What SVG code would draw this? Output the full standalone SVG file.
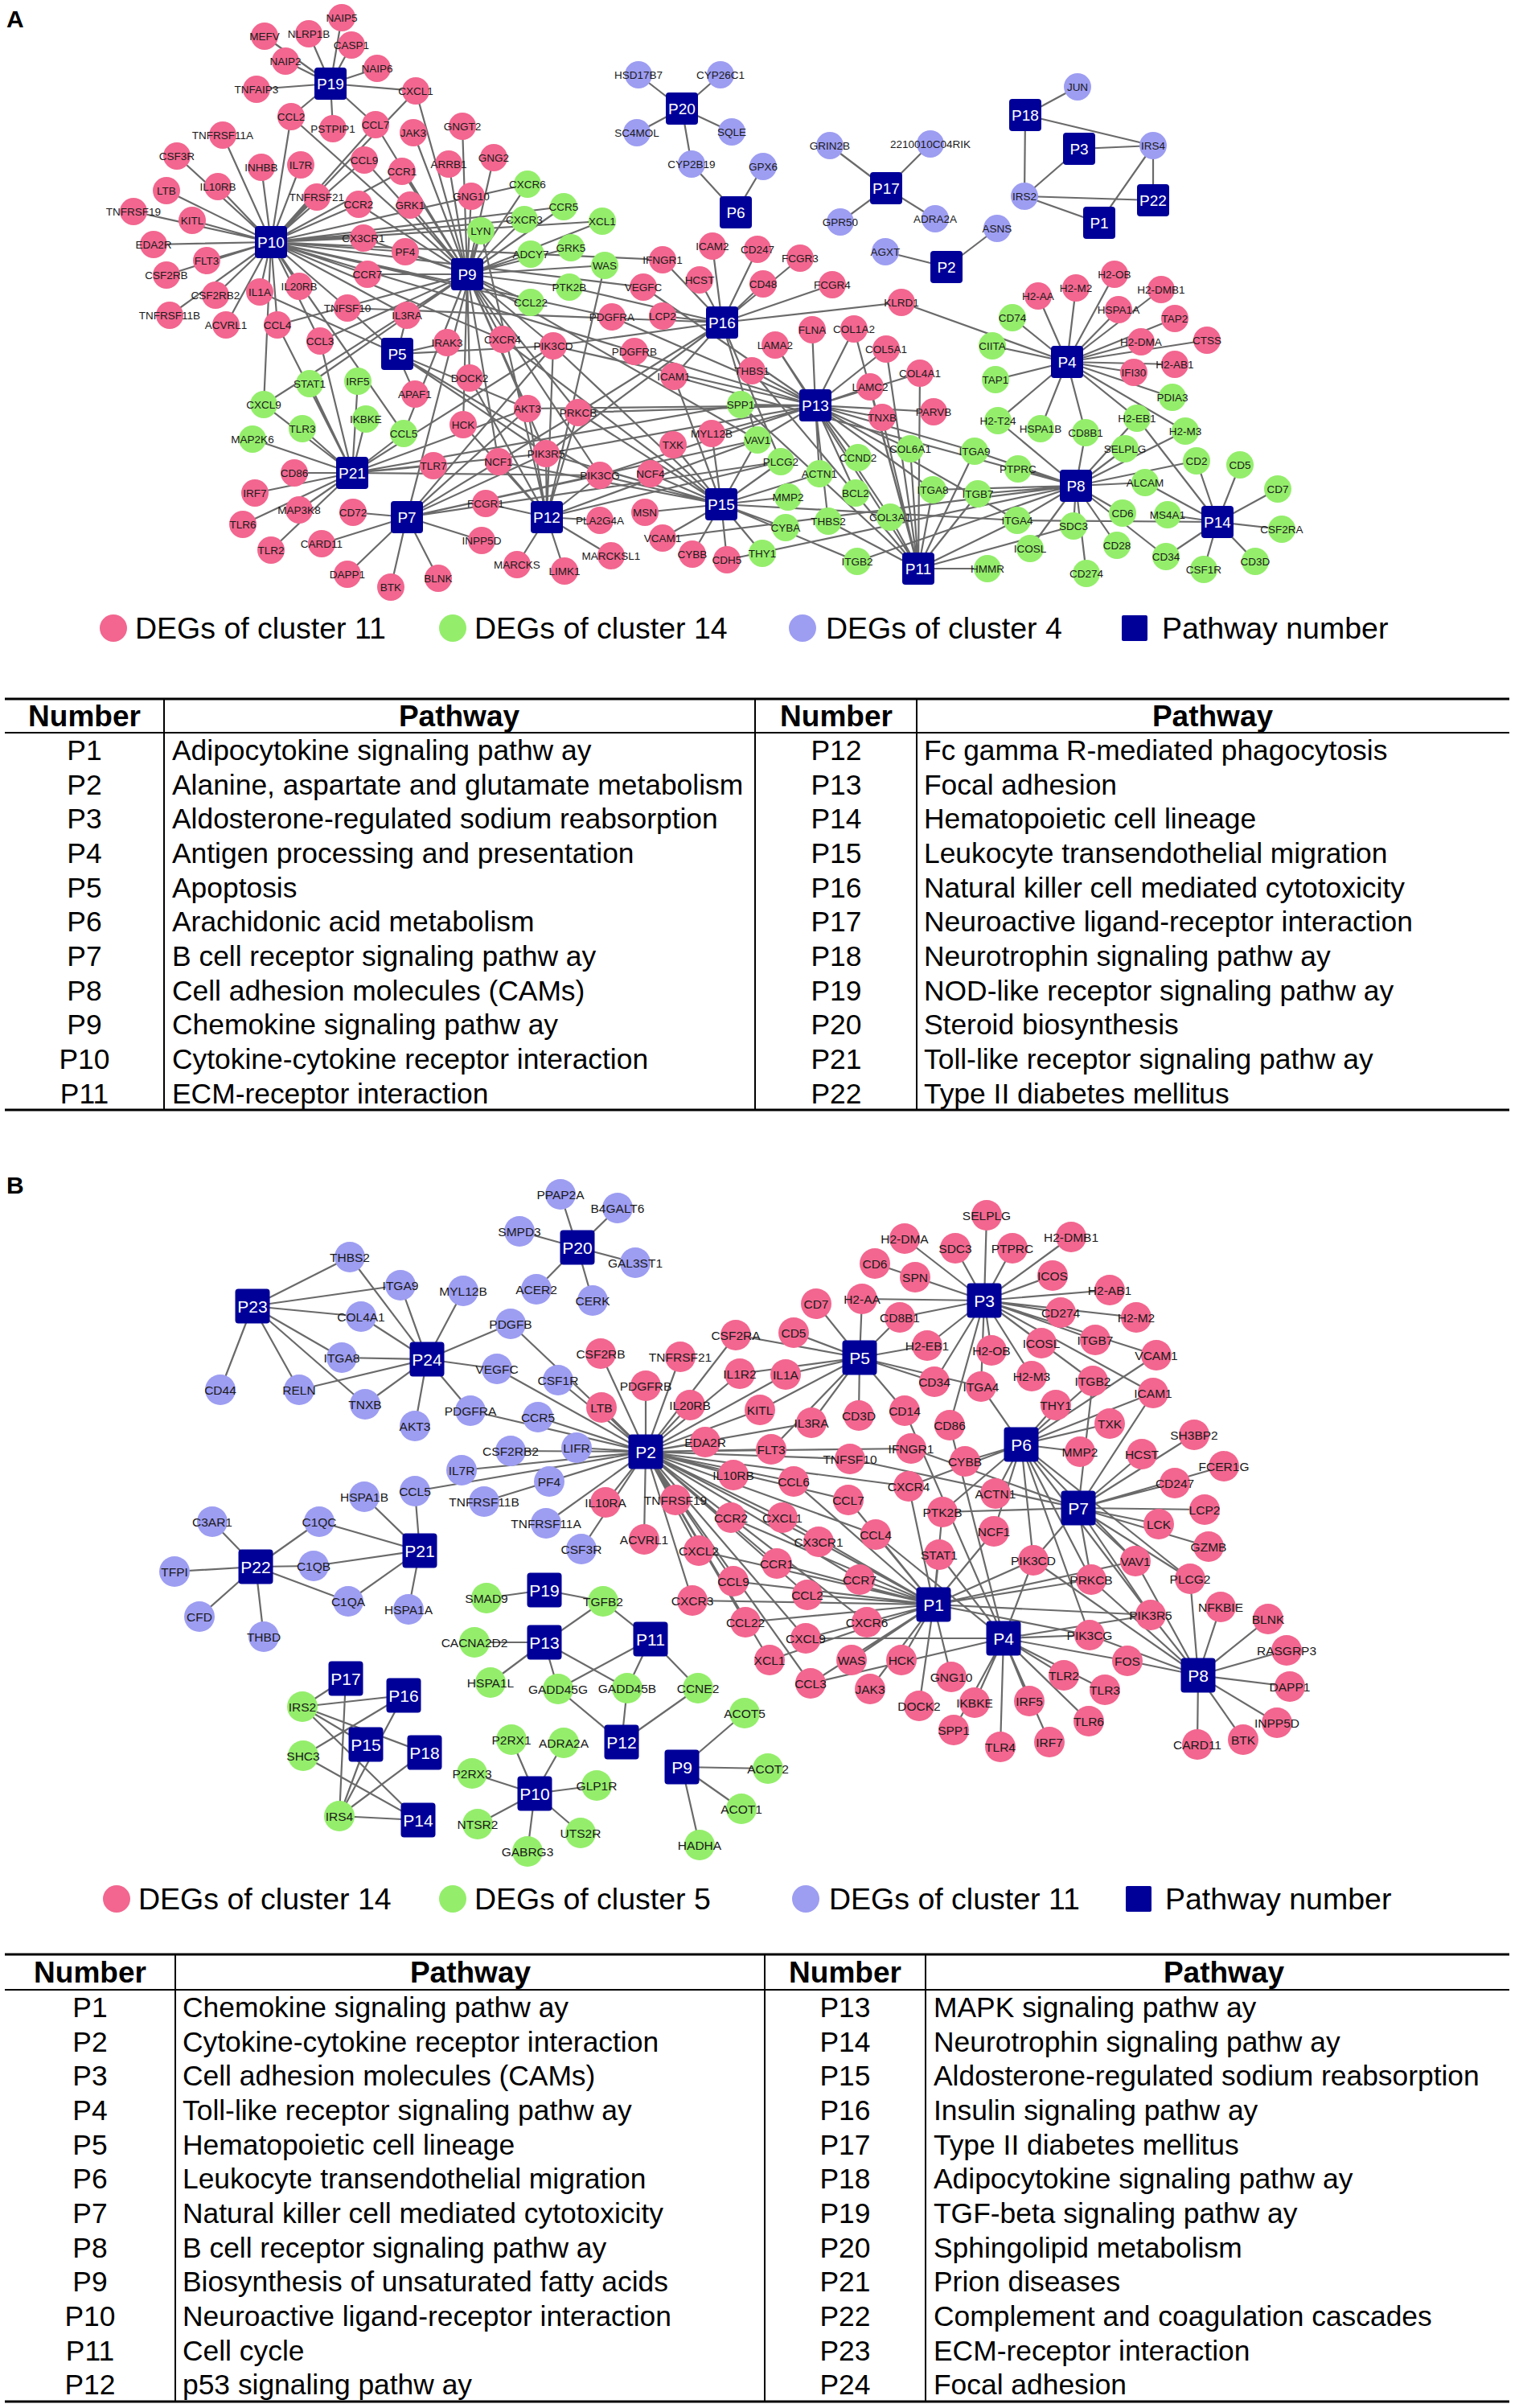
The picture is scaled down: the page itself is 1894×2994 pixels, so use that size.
<svg xmlns="http://www.w3.org/2000/svg" width="1894" height="2994" viewBox="0 0 1894 2994">
<style>
text{font-family:'Liberation Sans',Arial,Helvetica,sans-serif}
.e{stroke:#6a6a6a;stroke-width:2.2;fill:none}
.pk{fill:#F2668F}
.gr{fill:#94EE6B}
.lv{fill:#9D9DF2}
.hb{fill:#000099}
.n{font-size:13.5px;fill:#1a1a1a;text-anchor:middle;dominant-baseline:central}
.m{font-size:15.5px;fill:#1a1a1a;text-anchor:middle;dominant-baseline:central}
.ht{font-size:19px;fill:#fff;text-anchor:middle;dominant-baseline:central}
.hu{font-size:21px;fill:#fff;text-anchor:middle;dominant-baseline:central}
.lg{font-size:37.5px;fill:#000}
.tb{font-size:35.4px;fill:#000}
.tc{font-size:35.4px;fill:#000;text-anchor:middle}
.th{font-size:37px;font-weight:bold;fill:#000;text-anchor:middle}
.pl{font-size:30px;font-weight:bold;fill:#000}
.tl{stroke:#000;stroke-width:2}
.tk{stroke:#000;stroke-width:3}
</style>
<rect width="1894" height="2994" fill="#fff"/>
<text class="pl" x="8" y="34">A</text>
<text class="pl" x="8" y="1484">B</text>

<g id="connectors-a">
<path class="e" d="M411 104L425 22M411 104L329 45M411 104L384 42M411 104L437 56M411 104L355 76M411 104L469 85M411 104L319 111M411 104L517 113M411 104L362 145M411 104L414 160M411 104L467 155"/>
<path class="e" d="M337 301L277 168M337 301L220 194M337 301L325 208M337 301L374 205M337 301L207 237M337 301L271 232M337 301L166 263M337 301L239 274M337 301L191 304M337 301L257 324M337 301L207 342M337 301L268 367M337 301L323 363M337 301L372 356M337 301L211 392M337 301L281 404M337 301L345 404M337 301L398 424M337 301L432 383M337 301L506 392M337 301L362 145M337 301L467 155M337 301L453 199M337 301L500 213M337 301L394 245M337 301L446 254M337 301L452 296M337 301L504 313M337 301L457 341M337 301L517 113M337 301L656 229M337 301L652 273M337 301L701 257M337 301L749 275M337 301L328 503M337 301L502 539M337 301L625 422M337 301L660 376M337 301L800 357M337 301L761 394M337 301L789 437M337 301L824 323"/>
<path class="e" d="M581 341L575 157M581 341L558 204M581 341L614 196M581 341L586 244M581 341L598 287M581 341L656 229M581 341L652 273M581 341L701 257M581 341L749 275M581 341L660 316M581 341L710 308M581 341L752 330M581 341L708 357M581 341L660 376M581 341L514 165M581 341L510 255M581 341L500 213M581 341L453 199M581 341L467 155M581 341L362 145M581 341L517 113M581 341L446 254M581 341L452 296M581 341L504 313M581 341L457 341M581 341L345 404M581 341L398 424M581 341L625 422M581 341L584 470M581 341L576 528M581 341L385 477M581 341L502 539M581 341L328 503M581 341L656 508M581 341L688 430M581 341L679 564M581 341L746 591M581 341L719 513M581 341L620 574M581 341L942 547"/>
<path class="e" d="M848 135L794 93M848 135L896 93M848 135L792 165M848 135L910 164M848 135L860 204M915 264L860 204M915 264L949 207M1102 234L1032 181M1102 234L1157 179M1102 234L1045 276M1102 234L1163 272M1177 332L1101 313M1177 332L1240 284M1275 143L1340 108M1275 143L1434 181M1275 143L1274 244M1342 185L1434 181M1342 185L1274 244M1434 249L1434 181M1434 249L1274 244M1367 277L1434 181M1367 277L1274 244"/>
<path class="e" d="M494 440L506 392M494 440L556 426M494 440L516 490M494 440L432 383M494 440L323 363M494 440L688 430M494 440L679 564M494 440L746 591M494 440L656 508"/>
<path class="e" d="M438 588L385 477M438 588L445 474M438 588L455 521M438 588L502 539M438 588L328 503M438 588L376 533M438 588L314 546M438 588L366 588M438 588L317 613M438 588L372 634M438 588L302 652M438 588L337 684M438 588L539 579M438 588L398 424M438 588L345 404M438 588L656 508M438 588L688 430M438 588L679 564M438 588L746 591M438 588L921 503"/>
<path class="e" d="M506 643L439 637M506 643L400 676M506 643L432 714M506 643L486 730M506 643L545 719M506 643L599 672M506 643L656 508M506 643L688 430M506 643L679 564M506 643L746 591M506 643L719 513M506 643L942 547M506 643L971 574M506 643L598 287"/>
<path class="e" d="M680 643L604 626M680 643L620 574M680 643L576 528M680 643L584 470M680 643L746 647M680 643L643 702M680 643L760 691M680 643L702 710M680 643L688 430M680 643L679 564M680 643L746 591M680 643L656 508M680 643L719 513M680 643L942 547M680 643L971 574M680 643L598 287M680 643L752 330"/>
<path class="e" d="M897 627L802 637M897 627L824 669M897 627L861 689M897 627L904 696M897 627L948 688M897 627L977 656M897 627L980 618M897 627L1019 589M897 627L1066 698M897 627L1265 647M897 627L838 468M897 627L837 553M897 627L885 539M897 627L809 589M897 627L620 574M897 627L688 430M897 627L679 564M897 627L746 591M897 627L719 513M897 627L942 547M897 627L971 574M897 627L625 422"/>
<path class="e" d="M898 401L824 393M898 401L824 323M898 401L870 348M898 401L886 306M898 401L942 310M898 401L949 353M898 401L995 321M898 401L1035 354M898 401L1121 376M898 401L942 547M898 401L971 574M898 401L688 430M898 401L679 564M898 401L719 513M898 401L838 468M898 401L432 383M898 401L708 357"/>
<path class="e" d="M1014 504L1010 410M1014 504L1062 409M1014 504L964 429M1014 504L1102 434M1014 504L935 461M1014 504L1144 464M1014 504L1082 481M1014 504L1097 519M1014 504L1161 512M1014 504L921 503M1014 504L1132 558M1014 504L1067 569M1014 504L1019 589M1014 504L1064 613M1014 504L1030 648M1014 504L1107 643M1014 504L1160 609M1014 504L1212 561M1014 504L1265 647M1014 504L885 539M1014 504L942 547M1014 504L688 430M1014 504L679 564M1014 504L746 591M1014 504L656 508M1014 504L719 513M1014 504L761 394M1014 504L789 437M1014 504L800 357"/>
<path class="e" d="M1142 707L1132 558M1142 707L1160 609M1142 707L1212 561M1142 707L1216 614M1142 707L1265 647M1142 707L1107 643M1142 707L1030 648M1142 707L1228 707M1142 707L921 503M1142 707L935 461M1142 707L1062 409M1142 707L1144 464M1142 707L1102 434M1142 707L964 429M1142 707L1082 481M1142 707L1097 519M1142 707L1335 654"/>
<path class="e" d="M1327 450L1291 368M1327 450L1338 358M1327 450L1386 341M1327 450L1444 360M1327 450L1391 385M1327 450L1259 395M1327 450L1461 396M1327 450L1234 430M1327 450L1419 425M1327 450L1501 423M1327 450L1461 453M1327 450L1410 463M1327 450L1238 472M1327 450L1458 494M1327 450L1414 520M1327 450L1241 523M1327 450L1294 533M1327 450L1350 538M1327 450L1474 536M1327 450L1121 376"/>
<path class="e" d="M1338 604L1414 520M1338 604L1241 523M1338 604L1474 536M1338 604L1350 538M1338 604L1399 558M1338 604L1266 583M1338 604L1488 573M1338 604L1424 600M1338 604L1216 614M1338 604L1212 561M1338 604L1265 647M1338 604L1160 609M1338 604L1396 638M1338 604L1335 654M1338 604L1281 682M1338 604L1389 678M1338 604L1351 713M1338 604L1450 692M1338 604L838 468M1338 604L824 669M1338 604L904 696M1338 604L1066 698"/>
<path class="e" d="M1514 649L1488 573M1514 649L1542 578M1514 649L1589 608M1514 649L1594 658M1514 649L1561 698M1514 649L1497 708M1514 649L1450 692M1514 649L1452 640M1514 649L1414 520M1514 649L1424 600M1514 649L1265 647"/>
</g>

<g id="nodes-a">
<g id="a-NAIP5"><circle class="pk" cx="425" cy="22" r="17"/><text class="n" x="425" y="22">NAIP5</text></g>
<g id="a-MEFV"><circle class="pk" cx="329" cy="45" r="17"/><text class="n" x="329" y="45">MEFV</text></g>
<g id="a-NLRP1B"><circle class="pk" cx="384" cy="42" r="17"/><text class="n" x="384" y="42">NLRP1B</text></g>
<g id="a-CASP1"><circle class="pk" cx="437" cy="56" r="17"/><text class="n" x="437" y="56">CASP1</text></g>
<g id="a-NAIP2"><circle class="pk" cx="355" cy="76" r="17"/><text class="n" x="355" y="76">NAIP2</text></g>
<g id="a-NAIP6"><circle class="pk" cx="469" cy="85" r="17"/><text class="n" x="469" y="85">NAIP6</text></g>
<g id="a-TNFAIP3"><circle class="pk" cx="319" cy="111" r="17"/><text class="n" x="319" y="111">TNFAIP3</text></g>
<g id="a-CXCL1"><circle class="pk" cx="517" cy="113" r="17"/><text class="n" x="517" y="113">CXCL1</text></g>
<g id="a-CCL2"><circle class="pk" cx="362" cy="145" r="17"/><text class="n" x="362" y="145">CCL2</text></g>
<g id="a-PSTPIP1"><circle class="pk" cx="414" cy="160" r="17"/><text class="n" x="414" y="160">PSTPIP1</text></g>
<g id="a-CCL7"><circle class="pk" cx="467" cy="155" r="17"/><text class="n" x="467" y="155">CCL7</text></g>
<g id="a-JAK3"><circle class="pk" cx="514" cy="165" r="17"/><text class="n" x="514" y="165">JAK3</text></g>
<g id="a-GNGT2"><circle class="pk" cx="575" cy="157" r="17"/><text class="n" x="575" y="157">GNGT2</text></g>
<g id="a-TNFRSF11A"><circle class="pk" cx="277" cy="168" r="17"/><text class="n" x="277" y="168">TNFRSF11A</text></g>
<g id="a-CSF3R"><circle class="pk" cx="220" cy="194" r="17"/><text class="n" x="220" y="194">CSF3R</text></g>
<g id="a-INHBB"><circle class="pk" cx="325" cy="208" r="17"/><text class="n" x="325" y="208">INHBB</text></g>
<g id="a-IL7R"><circle class="pk" cx="374" cy="205" r="17"/><text class="n" x="374" y="205">IL7R</text></g>
<g id="a-CCL9"><circle class="pk" cx="453" cy="199" r="17"/><text class="n" x="453" y="199">CCL9</text></g>
<g id="a-CCR1"><circle class="pk" cx="500" cy="213" r="17"/><text class="n" x="500" y="213">CCR1</text></g>
<g id="a-ARRB1"><circle class="pk" cx="558" cy="204" r="17"/><text class="n" x="558" y="204">ARRB1</text></g>
<g id="a-GNG2"><circle class="pk" cx="614" cy="196" r="17"/><text class="n" x="614" y="196">GNG2</text></g>
<g id="a-LTB"><circle class="pk" cx="207" cy="237" r="17"/><text class="n" x="207" y="237">LTB</text></g>
<g id="a-IL10RB"><circle class="pk" cx="271" cy="232" r="17"/><text class="n" x="271" y="232">IL10RB</text></g>
<g id="a-TNFRSF21"><circle class="pk" cx="394" cy="245" r="17"/><text class="n" x="394" y="245">TNFRSF21</text></g>
<g id="a-GNG10"><circle class="pk" cx="586" cy="244" r="17"/><text class="n" x="586" y="244">GNG10</text></g>
<g id="a-TNFRSF19"><circle class="pk" cx="166" cy="263" r="17"/><text class="n" x="166" y="263">TNFRSF19</text></g>
<g id="a-KITL"><circle class="pk" cx="239" cy="274" r="17"/><text class="n" x="239" y="274">KITL</text></g>
<g id="a-CCR2"><circle class="pk" cx="446" cy="254" r="17"/><text class="n" x="446" y="254">CCR2</text></g>
<g id="a-GRK1"><circle class="pk" cx="510" cy="255" r="17"/><text class="n" x="510" y="255">GRK1</text></g>
<g id="a-EDA2R"><circle class="pk" cx="191" cy="304" r="17"/><text class="n" x="191" y="304">EDA2R</text></g>
<g id="a-CX3CR1"><circle class="pk" cx="452" cy="296" r="17"/><text class="n" x="452" y="296">CX3CR1</text></g>
<g id="a-PF4"><circle class="pk" cx="504" cy="313" r="17"/><text class="n" x="504" y="313">PF4</text></g>
<g id="a-FLT3"><circle class="pk" cx="257" cy="324" r="17"/><text class="n" x="257" y="324">FLT3</text></g>
<g id="a-CSF2RB"><circle class="pk" cx="207" cy="342" r="17"/><text class="n" x="207" y="342">CSF2RB</text></g>
<g id="a-CCR7"><circle class="pk" cx="457" cy="341" r="17"/><text class="n" x="457" y="341">CCR7</text></g>
<g id="a-CSF2RB2"><circle class="pk" cx="268" cy="367" r="17"/><text class="n" x="268" y="367">CSF2RB2</text></g>
<g id="a-IL1A"><circle class="pk" cx="323" cy="363" r="17"/><text class="n" x="323" y="363">IL1A</text></g>
<g id="a-IL20RB"><circle class="pk" cx="372" cy="356" r="17"/><text class="n" x="372" y="356">IL20RB</text></g>
<g id="a-TNFRSF11B"><circle class="pk" cx="211" cy="392" r="17"/><text class="n" x="211" y="392">TNFRSF11B</text></g>
<g id="a-ACVRL1"><circle class="pk" cx="281" cy="404" r="17"/><text class="n" x="281" y="404">ACVRL1</text></g>
<g id="a-CCL4"><circle class="pk" cx="345" cy="404" r="17"/><text class="n" x="345" y="404">CCL4</text></g>
<g id="a-TNFSF10"><circle class="pk" cx="432" cy="383" r="17"/><text class="n" x="432" y="383">TNFSF10</text></g>
<g id="a-IL3RA"><circle class="pk" cx="506" cy="392" r="17"/><text class="n" x="506" y="392">IL3RA</text></g>
<g id="a-CCL3"><circle class="pk" cx="398" cy="424" r="17"/><text class="n" x="398" y="424">CCL3</text></g>
<g id="a-IRAK3"><circle class="pk" cx="556" cy="426" r="17"/><text class="n" x="556" y="426">IRAK3</text></g>
<g id="a-CXCR4"><circle class="pk" cx="625" cy="422" r="17"/><text class="n" x="625" y="422">CXCR4</text></g>
<g id="a-DOCK2"><circle class="pk" cx="584" cy="470" r="17"/><text class="n" x="584" y="470">DOCK2</text></g>
<g id="a-APAF1"><circle class="pk" cx="516" cy="490" r="17"/><text class="n" x="516" y="490">APAF1</text></g>
<g id="a-AKT3"><circle class="pk" cx="656" cy="508" r="17"/><text class="n" x="656" y="508">AKT3</text></g>
<g id="a-HCK"><circle class="pk" cx="576" cy="528" r="17"/><text class="n" x="576" y="528">HCK</text></g>
<g id="a-TLR7"><circle class="pk" cx="539" cy="579" r="17"/><text class="n" x="539" y="579">TLR7</text></g>
<g id="a-NCF1"><circle class="pk" cx="620" cy="574" r="17"/><text class="n" x="620" y="574">NCF1</text></g>
<g id="a-CD86"><circle class="pk" cx="366" cy="588" r="17"/><text class="n" x="366" y="588">CD86</text></g>
<g id="a-IRF7"><circle class="pk" cx="317" cy="613" r="17"/><text class="n" x="317" y="613">IRF7</text></g>
<g id="a-FCGR1"><circle class="pk" cx="604" cy="626" r="17"/><text class="n" x="604" y="626">FCGR1</text></g>
<g id="a-MAP3K8"><circle class="pk" cx="372" cy="634" r="17"/><text class="n" x="372" y="634">MAP3K8</text></g>
<g id="a-CD72"><circle class="pk" cx="439" cy="637" r="17"/><text class="n" x="439" y="637">CD72</text></g>
<g id="a-TLR6"><circle class="pk" cx="302" cy="652" r="17"/><text class="n" x="302" y="652">TLR6</text></g>
<g id="a-INPP5D"><circle class="pk" cx="599" cy="672" r="17"/><text class="n" x="599" y="672">INPP5D</text></g>
<g id="a-CARD11"><circle class="pk" cx="400" cy="676" r="17"/><text class="n" x="400" y="676">CARD11</text></g>
<g id="a-TLR2"><circle class="pk" cx="337" cy="684" r="17"/><text class="n" x="337" y="684">TLR2</text></g>
<g id="a-MARCKS"><circle class="pk" cx="643" cy="702" r="17"/><text class="n" x="643" y="702">MARCKS</text></g>
<g id="a-DAPP1"><circle class="pk" cx="432" cy="714" r="17"/><text class="n" x="432" y="714">DAPP1</text></g>
<g id="a-BLNK"><circle class="pk" cx="545" cy="719" r="17"/><text class="n" x="545" y="719">BLNK</text></g>
<g id="a-BTK"><circle class="pk" cx="486" cy="730" r="17"/><text class="n" x="486" y="730">BTK</text></g>
<g id="a-LYN"><circle class="gr" cx="598" cy="287" r="17"/><text class="n" x="598" y="287">LYN</text></g>
<g id="a-STAT1"><circle class="gr" cx="385" cy="477" r="17"/><text class="n" x="385" y="477">STAT1</text></g>
<g id="a-IRF5"><circle class="gr" cx="445" cy="474" r="17"/><text class="n" x="445" y="474">IRF5</text></g>
<g id="a-CXCL9"><circle class="gr" cx="328" cy="503" r="17"/><text class="n" x="328" y="503">CXCL9</text></g>
<g id="a-IKBKE"><circle class="gr" cx="455" cy="521" r="17"/><text class="n" x="455" y="521">IKBKE</text></g>
<g id="a-TLR3"><circle class="gr" cx="376" cy="533" r="17"/><text class="n" x="376" y="533">TLR3</text></g>
<g id="a-CCL5"><circle class="gr" cx="502" cy="539" r="17"/><text class="n" x="502" y="539">CCL5</text></g>
<g id="a-MAP2K6"><circle class="gr" cx="314" cy="546" r="17"/><text class="n" x="314" y="546">MAP2K6</text></g>
<g id="a-HSD17B7"><circle class="lv" cx="794" cy="93" r="17"/><text class="n" x="794" y="93">HSD17B7</text></g>
<g id="a-CYP26C1"><circle class="lv" cx="896" cy="93" r="17"/><text class="n" x="896" y="93">CYP26C1</text></g>
<g id="a-SC4MOL"><circle class="lv" cx="792" cy="165" r="17"/><text class="n" x="792" y="165">SC4MOL</text></g>
<g id="a-SQLE"><circle class="lv" cx="910" cy="164" r="17"/><text class="n" x="910" y="164">SQLE</text></g>
<g id="a-CYP2B19"><circle class="lv" cx="860" cy="204" r="17"/><text class="n" x="860" y="204">CYP2B19</text></g>
<g id="a-GPX6"><circle class="lv" cx="949" cy="207" r="17"/><text class="n" x="949" y="207">GPX6</text></g>
<g id="a-GRIN2B"><circle class="lv" cx="1032" cy="181" r="17"/><text class="n" x="1032" y="181">GRIN2B</text></g>
<g id="a-2210010C04RIK"><circle class="lv" cx="1157" cy="179" r="17"/><text class="n" x="1157" y="179">2210010C04RIK</text></g>
<g id="a-GPR50"><circle class="lv" cx="1045" cy="276" r="17"/><text class="n" x="1045" y="276">GPR50</text></g>
<g id="a-ADRA2A"><circle class="lv" cx="1163" cy="272" r="17"/><text class="n" x="1163" y="272">ADRA2A</text></g>
<g id="a-AGXT"><circle class="lv" cx="1101" cy="313" r="17"/><text class="n" x="1101" y="313">AGXT</text></g>
<g id="a-ASNS"><circle class="lv" cx="1240" cy="284" r="17"/><text class="n" x="1240" y="284">ASNS</text></g>
<g id="a-JUN"><circle class="lv" cx="1340" cy="108" r="17"/><text class="n" x="1340" y="108">JUN</text></g>
<g id="a-IRS4"><circle class="lv" cx="1434" cy="181" r="17"/><text class="n" x="1434" y="181">IRS4</text></g>
<g id="a-IRS2"><circle class="lv" cx="1274" cy="244" r="17"/><text class="n" x="1274" y="244">IRS2</text></g>
<g id="a-CXCR6"><circle class="gr" cx="656" cy="229" r="17"/><text class="n" x="656" y="229">CXCR6</text></g>
<g id="a-CCR5"><circle class="gr" cx="701" cy="257" r="17"/><text class="n" x="701" y="257">CCR5</text></g>
<g id="a-CXCR3"><circle class="gr" cx="652" cy="273" r="17"/><text class="n" x="652" y="273">CXCR3</text></g>
<g id="a-XCL1"><circle class="gr" cx="749" cy="275" r="17"/><text class="n" x="749" y="275">XCL1</text></g>
<g id="a-ADCY7"><circle class="gr" cx="660" cy="316" r="17"/><text class="n" x="660" y="316">ADCY7</text></g>
<g id="a-GRK5"><circle class="gr" cx="710" cy="308" r="17"/><text class="n" x="710" y="308">GRK5</text></g>
<g id="a-WAS"><circle class="gr" cx="752" cy="330" r="17"/><text class="n" x="752" y="330">WAS</text></g>
<g id="a-PTK2B"><circle class="gr" cx="708" cy="357" r="17"/><text class="n" x="708" y="357">PTK2B</text></g>
<g id="a-CCL22"><circle class="gr" cx="660" cy="376" r="17"/><text class="n" x="660" y="376">CCL22</text></g>
<g id="a-IFNGR1"><circle class="pk" cx="824" cy="323" r="17"/><text class="n" x="824" y="323">IFNGR1</text></g>
<g id="a-ICAM2"><circle class="pk" cx="886" cy="306" r="17"/><text class="n" x="886" y="306">ICAM2</text></g>
<g id="a-CD247"><circle class="pk" cx="942" cy="310" r="17"/><text class="n" x="942" y="310">CD247</text></g>
<g id="a-FCGR3"><circle class="pk" cx="995" cy="321" r="17"/><text class="n" x="995" y="321">FCGR3</text></g>
<g id="a-HCST"><circle class="pk" cx="870" cy="348" r="17"/><text class="n" x="870" y="348">HCST</text></g>
<g id="a-CD48"><circle class="pk" cx="949" cy="353" r="17"/><text class="n" x="949" y="353">CD48</text></g>
<g id="a-FCGR4"><circle class="pk" cx="1035" cy="354" r="17"/><text class="n" x="1035" y="354">FCGR4</text></g>
<g id="a-VEGFC"><circle class="pk" cx="800" cy="357" r="17"/><text class="n" x="800" y="357">VEGFC</text></g>
<g id="a-KLRD1"><circle class="pk" cx="1121" cy="376" r="17"/><text class="n" x="1121" y="376">KLRD1</text></g>
<g id="a-PDGFRA"><circle class="pk" cx="761" cy="394" r="17"/><text class="n" x="761" y="394">PDGFRA</text></g>
<g id="a-LCP2"><circle class="pk" cx="824" cy="393" r="17"/><text class="n" x="824" y="393">LCP2</text></g>
<g id="a-PIK3CD"><circle class="pk" cx="688" cy="430" r="17"/><text class="n" x="688" y="430">PIK3CD</text></g>
<g id="a-PDGFRB"><circle class="pk" cx="789" cy="437" r="17"/><text class="n" x="789" y="437">PDGFRB</text></g>
<g id="a-FLNA"><circle class="pk" cx="1010" cy="410" r="17"/><text class="n" x="1010" y="410">FLNA</text></g>
<g id="a-COL1A2"><circle class="pk" cx="1062" cy="409" r="17"/><text class="n" x="1062" y="409">COL1A2</text></g>
<g id="a-LAMA2"><circle class="pk" cx="964" cy="429" r="17"/><text class="n" x="964" y="429">LAMA2</text></g>
<g id="a-COL5A1"><circle class="pk" cx="1102" cy="434" r="17"/><text class="n" x="1102" y="434">COL5A1</text></g>
<g id="a-THBS1"><circle class="pk" cx="935" cy="461" r="17"/><text class="n" x="935" y="461">THBS1</text></g>
<g id="a-COL4A1"><circle class="pk" cx="1144" cy="464" r="17"/><text class="n" x="1144" y="464">COL4A1</text></g>
<g id="a-ICAM1"><circle class="pk" cx="838" cy="468" r="17"/><text class="n" x="838" y="468">ICAM1</text></g>
<g id="a-LAMC2"><circle class="pk" cx="1082" cy="481" r="17"/><text class="n" x="1082" y="481">LAMC2</text></g>
<g id="a-PRKCB"><circle class="pk" cx="719" cy="513" r="17"/><text class="n" x="719" y="513">PRKCB</text></g>
<g id="a-TNXB"><circle class="pk" cx="1097" cy="519" r="17"/><text class="n" x="1097" y="519">TNXB</text></g>
<g id="a-PARVB"><circle class="pk" cx="1161" cy="512" r="17"/><text class="n" x="1161" y="512">PARVB</text></g>
<g id="a-MYL12B"><circle class="pk" cx="885" cy="539" r="17"/><text class="n" x="885" y="539">MYL12B</text></g>
<g id="a-TXK"><circle class="pk" cx="837" cy="553" r="17"/><text class="n" x="837" y="553">TXK</text></g>
<g id="a-PIK3R5"><circle class="pk" cx="679" cy="564" r="17"/><text class="n" x="679" y="564">PIK3R5</text></g>
<g id="a-PIK3CG"><circle class="pk" cx="746" cy="591" r="17"/><text class="n" x="746" y="591">PIK3CG</text></g>
<g id="a-NCF4"><circle class="pk" cx="809" cy="589" r="17"/><text class="n" x="809" y="589">NCF4</text></g>
<g id="a-PLA2G4A"><circle class="pk" cx="746" cy="647" r="17"/><text class="n" x="746" y="647">PLA2G4A</text></g>
<g id="a-MSN"><circle class="pk" cx="802" cy="637" r="17"/><text class="n" x="802" y="637">MSN</text></g>
<g id="a-VCAM1"><circle class="pk" cx="824" cy="669" r="17"/><text class="n" x="824" y="669">VCAM1</text></g>
<g id="a-CYBB"><circle class="pk" cx="861" cy="689" r="17"/><text class="n" x="861" y="689">CYBB</text></g>
<g id="a-CDH5"><circle class="pk" cx="904" cy="696" r="17"/><text class="n" x="904" y="696">CDH5</text></g>
<g id="a-MARCKSL1"><circle class="pk" cx="760" cy="691" r="17"/><text class="n" x="760" y="691">MARCKSL1</text></g>
<g id="a-LIMK1"><circle class="pk" cx="702" cy="710" r="17"/><text class="n" x="702" y="710">LIMK1</text></g>
<g id="a-SPP1"><circle class="gr" cx="921" cy="503" r="17"/><text class="n" x="921" y="503">SPP1</text></g>
<g id="a-VAV1"><circle class="gr" cx="942" cy="547" r="17"/><text class="n" x="942" y="547">VAV1</text></g>
<g id="a-COL6A1"><circle class="gr" cx="1132" cy="558" r="17"/><text class="n" x="1132" y="558">COL6A1</text></g>
<g id="a-CCND2"><circle class="gr" cx="1067" cy="569" r="17"/><text class="n" x="1067" y="569">CCND2</text></g>
<g id="a-PLCG2"><circle class="gr" cx="971" cy="574" r="17"/><text class="n" x="971" y="574">PLCG2</text></g>
<g id="a-ACTN1"><circle class="gr" cx="1019" cy="589" r="17"/><text class="n" x="1019" y="589">ACTN1</text></g>
<g id="a-ITGA8"><circle class="gr" cx="1160" cy="609" r="17"/><text class="n" x="1160" y="609">ITGA8</text></g>
<g id="a-MMP2"><circle class="gr" cx="980" cy="618" r="17"/><text class="n" x="980" y="618">MMP2</text></g>
<g id="a-BCL2"><circle class="gr" cx="1064" cy="613" r="17"/><text class="n" x="1064" y="613">BCL2</text></g>
<g id="a-COL3A1"><circle class="gr" cx="1107" cy="643" r="17"/><text class="n" x="1107" y="643">COL3A1</text></g>
<g id="a-THBS2"><circle class="gr" cx="1030" cy="648" r="17"/><text class="n" x="1030" y="648">THBS2</text></g>
<g id="a-CYBA"><circle class="gr" cx="977" cy="656" r="17"/><text class="n" x="977" y="656">CYBA</text></g>
<g id="a-THY1"><circle class="gr" cx="948" cy="688" r="17"/><text class="n" x="948" y="688">THY1</text></g>
<g id="a-ITGB2"><circle class="gr" cx="1066" cy="698" r="17"/><text class="n" x="1066" y="698">ITGB2</text></g>
<g id="a-H2-OB"><circle class="pk" cx="1386" cy="341" r="17"/><text class="n" x="1386" y="341">H2-OB</text></g>
<g id="a-H2-M2"><circle class="pk" cx="1338" cy="358" r="17"/><text class="n" x="1338" y="358">H2-M2</text></g>
<g id="a-H2-DMB1"><circle class="pk" cx="1444" cy="360" r="17"/><text class="n" x="1444" y="360">H2-DMB1</text></g>
<g id="a-H2-AA"><circle class="pk" cx="1291" cy="368" r="17"/><text class="n" x="1291" y="368">H2-AA</text></g>
<g id="a-HSPA1A"><circle class="pk" cx="1391" cy="385" r="17"/><text class="n" x="1391" y="385">HSPA1A</text></g>
<g id="a-TAP2"><circle class="pk" cx="1461" cy="396" r="17"/><text class="n" x="1461" y="396">TAP2</text></g>
<g id="a-H2-DMA"><circle class="pk" cx="1419" cy="425" r="17"/><text class="n" x="1419" y="425">H2-DMA</text></g>
<g id="a-CTSS"><circle class="pk" cx="1501" cy="423" r="17"/><text class="n" x="1501" y="423">CTSS</text></g>
<g id="a-H2-AB1"><circle class="pk" cx="1461" cy="453" r="17"/><text class="n" x="1461" y="453">H2-AB1</text></g>
<g id="a-IFI30"><circle class="pk" cx="1410" cy="463" r="17"/><text class="n" x="1410" y="463">IFI30</text></g>
<g id="a-CD74"><circle class="gr" cx="1259" cy="395" r="17"/><text class="n" x="1259" y="395">CD74</text></g>
<g id="a-CIITA"><circle class="gr" cx="1234" cy="430" r="17"/><text class="n" x="1234" y="430">CIITA</text></g>
<g id="a-TAP1"><circle class="gr" cx="1238" cy="472" r="17"/><text class="n" x="1238" y="472">TAP1</text></g>
<g id="a-PDIA3"><circle class="gr" cx="1458" cy="494" r="17"/><text class="n" x="1458" y="494">PDIA3</text></g>
<g id="a-H2-EB1"><circle class="gr" cx="1414" cy="520" r="17"/><text class="n" x="1414" y="520">H2-EB1</text></g>
<g id="a-H2-T24"><circle class="gr" cx="1241" cy="523" r="17"/><text class="n" x="1241" y="523">H2-T24</text></g>
<g id="a-HSPA1B"><circle class="gr" cx="1294" cy="533" r="17"/><text class="n" x="1294" y="533">HSPA1B</text></g>
<g id="a-CD8B1"><circle class="gr" cx="1350" cy="538" r="17"/><text class="n" x="1350" y="538">CD8B1</text></g>
<g id="a-H2-M3"><circle class="gr" cx="1474" cy="536" r="17"/><text class="n" x="1474" y="536">H2-M3</text></g>
<g id="a-ITGA9"><circle class="gr" cx="1212" cy="561" r="17"/><text class="n" x="1212" y="561">ITGA9</text></g>
<g id="a-SELPLG"><circle class="gr" cx="1399" cy="558" r="17"/><text class="n" x="1399" y="558">SELPLG</text></g>
<g id="a-PTPRC"><circle class="gr" cx="1266" cy="583" r="17"/><text class="n" x="1266" y="583">PTPRC</text></g>
<g id="a-CD2"><circle class="gr" cx="1488" cy="573" r="17"/><text class="n" x="1488" y="573">CD2</text></g>
<g id="a-CD5"><circle class="gr" cx="1542" cy="578" r="17"/><text class="n" x="1542" y="578">CD5</text></g>
<g id="a-ALCAM"><circle class="gr" cx="1424" cy="600" r="17"/><text class="n" x="1424" y="600">ALCAM</text></g>
<g id="a-ITGB7"><circle class="gr" cx="1216" cy="614" r="17"/><text class="n" x="1216" y="614">ITGB7</text></g>
<g id="a-CD7"><circle class="gr" cx="1589" cy="608" r="17"/><text class="n" x="1589" y="608">CD7</text></g>
<g id="a-CD6"><circle class="gr" cx="1396" cy="638" r="17"/><text class="n" x="1396" y="638">CD6</text></g>
<g id="a-MS4A1"><circle class="gr" cx="1452" cy="640" r="17"/><text class="n" x="1452" y="640">MS4A1</text></g>
<g id="a-ITGA4"><circle class="gr" cx="1265" cy="647" r="17"/><text class="n" x="1265" y="647">ITGA4</text></g>
<g id="a-SDC3"><circle class="gr" cx="1335" cy="654" r="17"/><text class="n" x="1335" y="654">SDC3</text></g>
<g id="a-CSF2RA"><circle class="gr" cx="1594" cy="658" r="17"/><text class="n" x="1594" y="658">CSF2RA</text></g>
<g id="a-CD28"><circle class="gr" cx="1389" cy="678" r="17"/><text class="n" x="1389" y="678">CD28</text></g>
<g id="a-ICOSL"><circle class="gr" cx="1281" cy="682" r="17"/><text class="n" x="1281" y="682">ICOSL</text></g>
<g id="a-CD34"><circle class="gr" cx="1450" cy="692" r="17"/><text class="n" x="1450" y="692">CD34</text></g>
<g id="a-CD3D"><circle class="gr" cx="1561" cy="698" r="17"/><text class="n" x="1561" y="698">CD3D</text></g>
<g id="a-HMMR"><circle class="gr" cx="1228" cy="707" r="17"/><text class="n" x="1228" y="707">HMMR</text></g>
<g id="a-CSF1R"><circle class="gr" cx="1497" cy="708" r="17"/><text class="n" x="1497" y="708">CSF1R</text></g>
<g id="a-CD274"><circle class="gr" cx="1351" cy="713" r="17"/><text class="n" x="1351" y="713">CD274</text></g>
</g>

<g id="hubs-a">
<g id="a-P19"><rect class="hb" x="391" y="84" width="40" height="40" rx="4"/><text class="ht" x="411" y="104">P19</text></g>
<g id="a-P10"><rect class="hb" x="317" y="281" width="40" height="40" rx="4"/><text class="ht" x="337" y="301">P10</text></g>
<g id="a-P9"><rect class="hb" x="561" y="321" width="40" height="40" rx="4"/><text class="ht" x="581" y="341">P9</text></g>
<g id="a-P20"><rect class="hb" x="828" y="115" width="40" height="40" rx="4"/><text class="ht" x="848" y="135">P20</text></g>
<g id="a-P6"><rect class="hb" x="895" y="244" width="40" height="40" rx="4"/><text class="ht" x="915" y="264">P6</text></g>
<g id="a-P17"><rect class="hb" x="1082" y="214" width="40" height="40" rx="4"/><text class="ht" x="1102" y="234">P17</text></g>
<g id="a-P2"><rect class="hb" x="1157" y="312" width="40" height="40" rx="4"/><text class="ht" x="1177" y="332">P2</text></g>
<g id="a-P18"><rect class="hb" x="1255" y="123" width="40" height="40" rx="4"/><text class="ht" x="1275" y="143">P18</text></g>
<g id="a-P3"><rect class="hb" x="1322" y="165" width="40" height="40" rx="4"/><text class="ht" x="1342" y="185">P3</text></g>
<g id="a-P22"><rect class="hb" x="1414" y="229" width="40" height="40" rx="4"/><text class="ht" x="1434" y="249">P22</text></g>
<g id="a-P1"><rect class="hb" x="1347" y="257" width="40" height="40" rx="4"/><text class="ht" x="1367" y="277">P1</text></g>
<g id="a-P16"><rect class="hb" x="878" y="381" width="40" height="40" rx="4"/><text class="ht" x="898" y="401">P16</text></g>
<g id="a-P5"><rect class="hb" x="474" y="420" width="40" height="40" rx="4"/><text class="ht" x="494" y="440">P5</text></g>
<g id="a-P13"><rect class="hb" x="994" y="484" width="40" height="40" rx="4"/><text class="ht" x="1014" y="504">P13</text></g>
<g id="a-P4"><rect class="hb" x="1307" y="430" width="40" height="40" rx="4"/><text class="ht" x="1327" y="450">P4</text></g>
<g id="a-P21"><rect class="hb" x="418" y="568" width="40" height="40" rx="4"/><text class="ht" x="438" y="588">P21</text></g>
<g id="a-P7"><rect class="hb" x="486" y="623" width="40" height="40" rx="4"/><text class="ht" x="506" y="643">P7</text></g>
<g id="a-P12"><rect class="hb" x="660" y="623" width="40" height="40" rx="4"/><text class="ht" x="680" y="643">P12</text></g>
<g id="a-P15"><rect class="hb" x="877" y="607" width="40" height="40" rx="4"/><text class="ht" x="897" y="627">P15</text></g>
<g id="a-P8"><rect class="hb" x="1318" y="584" width="40" height="40" rx="4"/><text class="ht" x="1338" y="604">P8</text></g>
<g id="a-P11"><rect class="hb" x="1122" y="687" width="40" height="40" rx="4"/><text class="ht" x="1142" y="707">P11</text></g>
<g id="a-P14"><rect class="hb" x="1494" y="629" width="40" height="40" rx="4"/><text class="ht" x="1514" y="649">P14</text></g>
</g>

<g id="legend-a">
<circle class="pk" cx="141" cy="781" r="17"/><text class="lg" x="168" y="794">DEGs of cluster 11</text>
<circle class="gr" cx="563" cy="781" r="17"/><text class="lg" x="590" y="794">DEGs of cluster 14</text>
<circle class="lv" cx="998" cy="781" r="17"/><text class="lg" x="1027" y="794">DEGs of cluster 4</text>
<rect class="hb" x="1395" y="765" width="32" height="32" rx="2"/><text class="lg" x="1445" y="794">Pathway number</text>
</g>

<g id="table-a">
<line class="tk" x1="6" y1="869" x2="1877" y2="869"/>
<line class="tl" x1="6" y1="911" x2="1877" y2="911"/>
<line class="tk" x1="6" y1="1380" x2="1877" y2="1380"/>
<line class="tl" x1="204" y1="869" x2="204" y2="1380"/>
<line class="tl" x1="939" y1="869" x2="939" y2="1380"/>
<line class="tl" x1="1140" y1="869" x2="1140" y2="1380"/>
<text class="th" x="105" y="903">Number</text><text class="th" x="571" y="903">Pathway</text>
<text class="th" x="1040" y="903">Number</text><text class="th" x="1508" y="903">Pathway</text>
<text class="tc" x="105" y="945">P1</text><text class="tb" x="214" y="945">Adipocytokine signaling pathw ay</text>
<text class="tc" x="105" y="988">P2</text><text class="tb" x="214" y="988">Alanine, aspartate and glutamate metabolism</text>
<text class="tc" x="105" y="1030">P3</text><text class="tb" x="214" y="1030">Aldosterone-regulated sodium reabsorption</text>
<text class="tc" x="105" y="1073">P4</text><text class="tb" x="214" y="1073">Antigen processing and presentation</text>
<text class="tc" x="105" y="1116">P5</text><text class="tb" x="214" y="1116">Apoptosis</text>
<text class="tc" x="105" y="1158">P6</text><text class="tb" x="214" y="1158">Arachidonic acid metabolism</text>
<text class="tc" x="105" y="1201">P7</text><text class="tb" x="214" y="1201">B cell receptor signaling pathw ay</text>
<text class="tc" x="105" y="1244">P8</text><text class="tb" x="214" y="1244">Cell adhesion molecules (CAMs)</text>
<text class="tc" x="105" y="1286">P9</text><text class="tb" x="214" y="1286">Chemokine signaling pathw ay</text>
<text class="tc" x="105" y="1329">P10</text><text class="tb" x="214" y="1329">Cytokine-cytokine receptor interaction</text>
<text class="tc" x="105" y="1372">P11</text><text class="tb" x="214" y="1372">ECM-receptor interaction</text>
<text class="tc" x="1040" y="945">P12</text><text class="tb" x="1149" y="945">Fc gamma R-mediated phagocytosis</text>
<text class="tc" x="1040" y="988">P13</text><text class="tb" x="1149" y="988">Focal adhesion</text>
<text class="tc" x="1040" y="1030">P14</text><text class="tb" x="1149" y="1030">Hematopoietic cell lineage</text>
<text class="tc" x="1040" y="1073">P15</text><text class="tb" x="1149" y="1073">Leukocyte transendothelial migration</text>
<text class="tc" x="1040" y="1116">P16</text><text class="tb" x="1149" y="1116">Natural killer cell mediated cytotoxicity</text>
<text class="tc" x="1040" y="1158">P17</text><text class="tb" x="1149" y="1158">Neuroactive ligand-receptor interaction</text>
<text class="tc" x="1040" y="1201">P18</text><text class="tb" x="1149" y="1201">Neurotrophin signaling pathw ay</text>
<text class="tc" x="1040" y="1244">P19</text><text class="tb" x="1149" y="1244">NOD-like receptor signaling pathw ay</text>
<text class="tc" x="1040" y="1286">P20</text><text class="tb" x="1149" y="1286">Steroid biosynthesis</text>
<text class="tc" x="1040" y="1329">P21</text><text class="tb" x="1149" y="1329">Toll-like receptor signaling pathw ay</text>
<text class="tc" x="1040" y="1372">P22</text><text class="tb" x="1149" y="1372">Type II diabetes mellitus</text>
</g>

<g id="connectors-b">
<path class="e" d="M718 1551L697 1485M718 1551L646 1531M718 1551L768 1502M718 1551L790 1570M718 1551L667 1603M718 1551L737 1617"/>
<path class="e" d="M314 1624L435 1563M314 1624L498 1598M314 1624L449 1637M314 1624L425 1688M314 1624L454 1746M314 1624L372 1728M314 1624L274 1728"/>
<path class="e" d="M531 1690L435 1563M531 1690L498 1598M531 1690L576 1605M531 1690L449 1637M531 1690L635 1646M531 1690L425 1688M531 1690L618 1702M531 1690L372 1728M531 1690L454 1746M531 1690L516 1773M531 1690L585 1754"/>
<path class="e" d="M522 1928L397 1892M522 1928L390 1947M522 1928L433 1991M522 1928L508 2001M522 1928L453 1861M522 1928L516 1854"/>
<path class="e" d="M318 1948L264 1892M318 1948L397 1892M318 1948L217 1954M318 1948L390 1947M318 1948L248 2010M318 1948L328 2035M318 1948L433 1991"/>
<path class="e" d="M677 1977L605 1987M677 1977L750 1991M677 2042L590 2042M677 2042L610 2092M677 2042L694 2100M677 2042L780 2099M677 2042L750 1991M809 2038L750 1991M809 2038L694 2100M809 2038L780 2099M809 2038L868 2099M773 2166L694 2100M773 2166L780 2099M773 2166L868 2099"/>
<path class="e" d="M848 2197L926 2130M848 2197L955 2199M848 2197L922 2249M848 2197L870 2294M665 2230L636 2163M665 2230L701 2167M665 2230L587 2205M665 2230L742 2220M665 2230L594 2268M665 2230L656 2302M665 2230L722 2279"/>
<path class="e" d="M430 2087L376 2122M430 2087L422 2258M502 2108L376 2122M502 2108L422 2258M502 2108L377 2183M455 2169L376 2122M455 2169L422 2258M528 2179L376 2122M528 2179L422 2258M520 2263L376 2122M520 2263L422 2258M520 2263L377 2183"/>
<path class="e" d="M803 1805L747 1683M803 1805L846 1687M803 1805L803 1723M803 1805L748 1750M803 1805L858 1747M803 1805L920 1708M803 1805L915 1660M803 1805L977 1709M803 1805L945 1753M803 1805L877 1793M803 1805L959 1802M803 1805L1057 1814M803 1805L1133 1801M803 1805L912 1834M803 1805L987 1842M803 1805L1055 1865M803 1805L1130 1848M803 1805L753 1868M803 1805L840 1865M803 1805L909 1887M803 1805L973 1887M803 1805L717 1800M803 1805L694 1716M803 1805L635 1646M803 1805L618 1702M803 1805L585 1754M803 1805L669 1762M803 1805L635 1804M803 1805L574 1828M803 1805L683 1842M803 1805L602 1867M803 1805L679 1894M803 1805L723 1926M803 1805L801 1914M803 1805L869 1928M803 1805L912 1966M803 1805L861 1990M803 1805L927 2017M803 1805L966 1944M803 1805L1018 1917M803 1805L1004 1983M803 1805L1069 1964M803 1805L1002 2037M803 1805L957 2064M803 1805L1008 2093M803 1805L1089 1908M803 1805L1078 2017M803 1805L1009 1769M803 1805L516 1854"/>
<path class="e" d="M1161 1995L1089 1908M1161 1995L1018 1917M1161 1995L1069 1964M1161 1995L909 1887M1161 1995L966 1944M1161 1995L973 1887M1161 1995L1004 1983M1161 1995L912 1966M1161 1995L869 1928M1161 1995L861 1990M1161 1995L927 2017M1161 1995L1078 2017M1161 1995L1002 2037M1161 1995L957 2064M1161 1995L1008 2093M1161 1995L1059 2064M1161 1995L1121 2064M1161 1995L1082 2100M1161 1995L1143 2121M1161 1995L1183 2085M1161 1995L1168 1933M1161 1995L1172 1880M1161 1995L1236 1904M1161 1995L1285 1940M1161 1995L1357 1964M1161 1995L1431 2008M1161 1995L1355 2033M1161 1995L1412 1941M1161 1995L987 1842M1161 1995L1055 1865M1161 1995L1130 1848"/>
<path class="e" d="M1248 2037L1323 2083M1248 2037L1374 2101M1248 2037L1354 2140M1248 2037L1244 2172M1248 2037L1280 2115M1248 2037L1305 2166M1248 2037L1212 2117M1248 2037L1186 2151M1248 2037L1402 2065M1248 2037L1355 2033M1248 2037L1431 2008M1248 2037L1285 1940M1248 2037L1168 1933M1248 2037L1002 2037M1248 2037L1008 2093M1248 2037L1089 1908M1248 2037L1125 1754M1248 2037L1181 1772"/>
<path class="e" d="M1270 1796L1220 1724M1270 1796L1313 1747M1270 1796L1359 1717M1270 1796L1438 1685M1270 1796L1380 1770M1270 1796L1434 1732M1270 1796L1343 1805M1270 1796L1200 1817M1270 1796L1238 1857M1270 1796L1172 1880M1270 1796L1236 1904M1270 1796L1285 1940M1270 1796L1357 1964M1270 1796L1355 2033M1270 1796L1431 2008M1270 1796L1412 1941M1270 1796L1480 1963M1270 1796L1130 1848"/>
<path class="e" d="M1341 1875L1485 1784M1341 1875L1420 1808M1341 1875L1522 1823M1341 1875L1461 1844M1341 1875L1498 1877M1341 1875L1441 1895M1341 1875L1503 1923M1341 1875L1412 1941M1341 1875L1480 1963M1341 1875L1285 1940M1341 1875L1431 2008M1341 1875L1357 1964M1341 1875L1434 1732M1341 1875L1359 1717M1341 1875L1133 1801M1341 1875L1057 1814M1341 1875L1172 1880"/>
<path class="e" d="M1490 2083L1518 1998M1490 2083L1577 2013M1490 2083L1600 2052M1490 2083L1604 2097M1490 2083L1588 2142M1490 2083L1546 2163M1490 2083L1489 2169M1490 2083L1480 1963M1490 2083L1431 2008M1490 2083L1402 2065M1490 2083L1285 1940M1490 2083L1357 1964M1490 2083L1412 1941M1490 2083L1355 2033"/>
<path class="e" d="M1224 1617L1227 1511M1224 1617L1188 1552M1224 1617L1259 1552M1224 1617L1332 1538M1224 1617L1309 1586M1224 1617L1380 1604M1224 1617L1319 1632M1224 1617L1413 1638M1224 1617L1362 1666M1224 1617L1438 1685M1224 1617L1295 1670M1224 1617L1434 1732M1224 1617L1233 1679M1224 1617L1283 1711M1224 1617L1359 1717M1224 1617L1220 1724M1224 1617L1181 1772M1224 1617L1162 1718M1224 1617L1153 1673M1224 1617L1119 1638M1224 1617L1072 1615M1224 1617L1125 1540M1224 1617L1138 1588M1224 1617L1088 1571"/>
<path class="e" d="M1069 1688L1015 1621M1069 1688L1072 1615M1069 1688L1119 1638M1069 1688L915 1660M1069 1688L987 1657M1069 1688L977 1709M1069 1688L920 1708M1069 1688L945 1753M1069 1688L1009 1769M1069 1688L959 1802M1069 1688L1068 1760M1069 1688L1125 1754M1069 1688L1153 1673M1069 1688L1162 1718M1069 1688L1220 1724"/>
</g>

<g id="nodes-b">
<g id="b-PPAP2A"><circle class="lv" cx="697" cy="1485" r="19"/><text class="m" x="697" y="1485">PPAP2A</text></g>
<g id="b-SMPD3"><circle class="lv" cx="646" cy="1531" r="19"/><text class="m" x="646" y="1531">SMPD3</text></g>
<g id="b-B4GALT6"><circle class="lv" cx="768" cy="1502" r="19"/><text class="m" x="768" y="1502">B4GALT6</text></g>
<g id="b-GAL3ST1"><circle class="lv" cx="790" cy="1570" r="19"/><text class="m" x="790" y="1570">GAL3ST1</text></g>
<g id="b-ACER2"><circle class="lv" cx="667" cy="1603" r="19"/><text class="m" x="667" y="1603">ACER2</text></g>
<g id="b-CERK"><circle class="lv" cx="737" cy="1617" r="19"/><text class="m" x="737" y="1617">CERK</text></g>
<g id="b-THBS2"><circle class="lv" cx="435" cy="1563" r="19"/><text class="m" x="435" y="1563">THBS2</text></g>
<g id="b-ITGA9"><circle class="lv" cx="498" cy="1598" r="19"/><text class="m" x="498" y="1598">ITGA9</text></g>
<g id="b-MYL12B"><circle class="lv" cx="576" cy="1605" r="19"/><text class="m" x="576" y="1605">MYL12B</text></g>
<g id="b-COL4A1"><circle class="lv" cx="449" cy="1637" r="19"/><text class="m" x="449" y="1637">COL4A1</text></g>
<g id="b-PDGFB"><circle class="lv" cx="635" cy="1646" r="19"/><text class="m" x="635" y="1646">PDGFB</text></g>
<g id="b-ITGA8"><circle class="lv" cx="425" cy="1688" r="19"/><text class="m" x="425" y="1688">ITGA8</text></g>
<g id="b-VEGFC"><circle class="lv" cx="618" cy="1702" r="19"/><text class="m" x="618" y="1702">VEGFC</text></g>
<g id="b-CSF1R"><circle class="lv" cx="694" cy="1716" r="19"/><text class="m" x="694" y="1716">CSF1R</text></g>
<g id="b-CD44"><circle class="lv" cx="274" cy="1728" r="19"/><text class="m" x="274" y="1728">CD44</text></g>
<g id="b-RELN"><circle class="lv" cx="372" cy="1728" r="19"/><text class="m" x="372" y="1728">RELN</text></g>
<g id="b-TNXB"><circle class="lv" cx="454" cy="1746" r="19"/><text class="m" x="454" y="1746">TNXB</text></g>
<g id="b-PDGFRA"><circle class="lv" cx="585" cy="1754" r="19"/><text class="m" x="585" y="1754">PDGFRA</text></g>
<g id="b-CCR5"><circle class="lv" cx="669" cy="1762" r="19"/><text class="m" x="669" y="1762">CCR5</text></g>
<g id="b-AKT3"><circle class="lv" cx="516" cy="1773" r="19"/><text class="m" x="516" y="1773">AKT3</text></g>
<g id="b-LIFR"><circle class="lv" cx="717" cy="1800" r="19"/><text class="m" x="717" y="1800">LIFR</text></g>
<g id="b-CSF2RB2"><circle class="lv" cx="635" cy="1804" r="19"/><text class="m" x="635" y="1804">CSF2RB2</text></g>
<g id="b-IL7R"><circle class="lv" cx="574" cy="1828" r="19"/><text class="m" x="574" y="1828">IL7R</text></g>
<g id="b-PF4"><circle class="lv" cx="683" cy="1842" r="19"/><text class="m" x="683" y="1842">PF4</text></g>
<g id="b-CCL5"><circle class="lv" cx="516" cy="1854" r="19"/><text class="m" x="516" y="1854">CCL5</text></g>
<g id="b-HSPA1B"><circle class="lv" cx="453" cy="1861" r="19"/><text class="m" x="453" y="1861">HSPA1B</text></g>
<g id="b-TNFRSF11B"><circle class="lv" cx="602" cy="1867" r="19"/><text class="m" x="602" y="1867">TNFRSF11B</text></g>
<g id="b-TNFRSF11A"><circle class="lv" cx="679" cy="1894" r="19"/><text class="m" x="679" y="1894">TNFRSF11A</text></g>
<g id="b-CSF3R"><circle class="lv" cx="723" cy="1926" r="19"/><text class="m" x="723" y="1926">CSF3R</text></g>
<g id="b-C3AR1"><circle class="lv" cx="264" cy="1892" r="19"/><text class="m" x="264" y="1892">C3AR1</text></g>
<g id="b-C1QC"><circle class="lv" cx="397" cy="1892" r="19"/><text class="m" x="397" y="1892">C1QC</text></g>
<g id="b-TFPI"><circle class="lv" cx="217" cy="1954" r="19"/><text class="m" x="217" y="1954">TFPI</text></g>
<g id="b-C1QB"><circle class="lv" cx="390" cy="1947" r="19"/><text class="m" x="390" y="1947">C1QB</text></g>
<g id="b-C1QA"><circle class="lv" cx="433" cy="1991" r="19"/><text class="m" x="433" y="1991">C1QA</text></g>
<g id="b-HSPA1A"><circle class="lv" cx="508" cy="2001" r="19"/><text class="m" x="508" y="2001">HSPA1A</text></g>
<g id="b-CFD"><circle class="lv" cx="248" cy="2010" r="19"/><text class="m" x="248" y="2010">CFD</text></g>
<g id="b-THBD"><circle class="lv" cx="328" cy="2035" r="19"/><text class="m" x="328" y="2035">THBD</text></g>
<g id="b-SMAD9"><circle class="gr" cx="605" cy="1987" r="19"/><text class="m" x="605" y="1987">SMAD9</text></g>
<g id="b-TGFB2"><circle class="gr" cx="750" cy="1991" r="19"/><text class="m" x="750" y="1991">TGFB2</text></g>
<g id="b-CACNA2D2"><circle class="gr" cx="590" cy="2042" r="19"/><text class="m" x="590" y="2042">CACNA2D2</text></g>
<g id="b-HSPA1L"><circle class="gr" cx="610" cy="2092" r="19"/><text class="m" x="610" y="2092">HSPA1L</text></g>
<g id="b-GADD45G"><circle class="gr" cx="694" cy="2100" r="19"/><text class="m" x="694" y="2100">GADD45G</text></g>
<g id="b-GADD45B"><circle class="gr" cx="780" cy="2099" r="19"/><text class="m" x="780" y="2099">GADD45B</text></g>
<g id="b-CCNE2"><circle class="gr" cx="868" cy="2099" r="19"/><text class="m" x="868" y="2099">CCNE2</text></g>
<g id="b-IRS2"><circle class="gr" cx="376" cy="2122" r="19"/><text class="m" x="376" y="2122">IRS2</text></g>
<g id="b-SHC3"><circle class="gr" cx="377" cy="2183" r="19"/><text class="m" x="377" y="2183">SHC3</text></g>
<g id="b-IRS4"><circle class="gr" cx="422" cy="2258" r="19"/><text class="m" x="422" y="2258">IRS4</text></g>
<g id="b-P2RX1"><circle class="gr" cx="636" cy="2163" r="19"/><text class="m" x="636" y="2163">P2RX1</text></g>
<g id="b-ADRA2A"><circle class="gr" cx="701" cy="2167" r="19"/><text class="m" x="701" y="2167">ADRA2A</text></g>
<g id="b-P2RX3"><circle class="gr" cx="587" cy="2205" r="19"/><text class="m" x="587" y="2205">P2RX3</text></g>
<g id="b-GLP1R"><circle class="gr" cx="742" cy="2220" r="19"/><text class="m" x="742" y="2220">GLP1R</text></g>
<g id="b-NTSR2"><circle class="gr" cx="594" cy="2268" r="19"/><text class="m" x="594" y="2268">NTSR2</text></g>
<g id="b-GABRG3"><circle class="gr" cx="656" cy="2302" r="19"/><text class="m" x="656" y="2302">GABRG3</text></g>
<g id="b-UTS2R"><circle class="gr" cx="722" cy="2279" r="19"/><text class="m" x="722" y="2279">UTS2R</text></g>
<g id="b-ACOT5"><circle class="gr" cx="926" cy="2130" r="19"/><text class="m" x="926" y="2130">ACOT5</text></g>
<g id="b-ACOT2"><circle class="gr" cx="955" cy="2199" r="19"/><text class="m" x="955" y="2199">ACOT2</text></g>
<g id="b-ACOT1"><circle class="gr" cx="922" cy="2249" r="19"/><text class="m" x="922" y="2249">ACOT1</text></g>
<g id="b-HADHA"><circle class="gr" cx="870" cy="2294" r="19"/><text class="m" x="870" y="2294">HADHA</text></g>
<g id="b-H2-DMA"><circle class="pk" cx="1125" cy="1540" r="19"/><text class="m" x="1125" y="1540">H2-DMA</text></g>
<g id="b-SDC3"><circle class="pk" cx="1188" cy="1552" r="19"/><text class="m" x="1188" y="1552">SDC3</text></g>
<g id="b-CD6"><circle class="pk" cx="1088" cy="1571" r="19"/><text class="m" x="1088" y="1571">CD6</text></g>
<g id="b-SPN"><circle class="pk" cx="1138" cy="1588" r="19"/><text class="m" x="1138" y="1588">SPN</text></g>
<g id="b-CD7"><circle class="pk" cx="1015" cy="1621" r="19"/><text class="m" x="1015" y="1621">CD7</text></g>
<g id="b-H2-AA"><circle class="pk" cx="1072" cy="1615" r="19"/><text class="m" x="1072" y="1615">H2-AA</text></g>
<g id="b-CD8B1"><circle class="pk" cx="1119" cy="1638" r="19"/><text class="m" x="1119" y="1638">CD8B1</text></g>
<g id="b-CSF2RA"><circle class="pk" cx="915" cy="1660" r="19"/><text class="m" x="915" y="1660">CSF2RA</text></g>
<g id="b-CD5"><circle class="pk" cx="987" cy="1657" r="19"/><text class="m" x="987" y="1657">CD5</text></g>
<g id="b-H2-EB1"><circle class="pk" cx="1153" cy="1673" r="19"/><text class="m" x="1153" y="1673">H2-EB1</text></g>
<g id="b-CSF2RB"><circle class="pk" cx="747" cy="1683" r="19"/><text class="m" x="747" y="1683">CSF2RB</text></g>
<g id="b-TNFRSF21"><circle class="pk" cx="846" cy="1687" r="19"/><text class="m" x="846" y="1687">TNFRSF21</text></g>
<g id="b-IL1R2"><circle class="pk" cx="920" cy="1708" r="19"/><text class="m" x="920" y="1708">IL1R2</text></g>
<g id="b-IL1A"><circle class="pk" cx="977" cy="1709" r="19"/><text class="m" x="977" y="1709">IL1A</text></g>
<g id="b-CD34"><circle class="pk" cx="1162" cy="1718" r="19"/><text class="m" x="1162" y="1718">CD34</text></g>
<g id="b-PDGFRB"><circle class="pk" cx="803" cy="1723" r="19"/><text class="m" x="803" y="1723">PDGFRB</text></g>
<g id="b-LTB"><circle class="pk" cx="748" cy="1750" r="19"/><text class="m" x="748" y="1750">LTB</text></g>
<g id="b-IL20RB"><circle class="pk" cx="858" cy="1747" r="19"/><text class="m" x="858" y="1747">IL20RB</text></g>
<g id="b-KITL"><circle class="pk" cx="945" cy="1753" r="19"/><text class="m" x="945" y="1753">KITL</text></g>
<g id="b-IL3RA"><circle class="pk" cx="1009" cy="1769" r="19"/><text class="m" x="1009" y="1769">IL3RA</text></g>
<g id="b-CD3D"><circle class="pk" cx="1068" cy="1760" r="19"/><text class="m" x="1068" y="1760">CD3D</text></g>
<g id="b-CD14"><circle class="pk" cx="1125" cy="1754" r="19"/><text class="m" x="1125" y="1754">CD14</text></g>
<g id="b-CD86"><circle class="pk" cx="1181" cy="1772" r="19"/><text class="m" x="1181" y="1772">CD86</text></g>
<g id="b-EDA2R"><circle class="pk" cx="877" cy="1793" r="19"/><text class="m" x="877" y="1793">EDA2R</text></g>
<g id="b-FLT3"><circle class="pk" cx="959" cy="1802" r="19"/><text class="m" x="959" y="1802">FLT3</text></g>
<g id="b-IFNGR1"><circle class="pk" cx="1133" cy="1801" r="19"/><text class="m" x="1133" y="1801">IFNGR1</text></g>
<g id="b-TNFSF10"><circle class="pk" cx="1057" cy="1814" r="19"/><text class="m" x="1057" y="1814">TNFSF10</text></g>
<g id="b-CYBB"><circle class="pk" cx="1200" cy="1817" r="19"/><text class="m" x="1200" y="1817">CYBB</text></g>
<g id="b-IL10RB"><circle class="pk" cx="912" cy="1834" r="19"/><text class="m" x="912" y="1834">IL10RB</text></g>
<g id="b-CCL6"><circle class="pk" cx="987" cy="1842" r="19"/><text class="m" x="987" y="1842">CCL6</text></g>
<g id="b-CXCR4"><circle class="pk" cx="1130" cy="1848" r="19"/><text class="m" x="1130" y="1848">CXCR4</text></g>
<g id="b-IL10RA"><circle class="pk" cx="753" cy="1868" r="19"/><text class="m" x="753" y="1868">IL10RA</text></g>
<g id="b-TNFRSF19"><circle class="pk" cx="840" cy="1865" r="19"/><text class="m" x="840" y="1865">TNFRSF19</text></g>
<g id="b-CCL7"><circle class="pk" cx="1055" cy="1865" r="19"/><text class="m" x="1055" y="1865">CCL7</text></g>
<g id="b-PTK2B"><circle class="pk" cx="1172" cy="1880" r="19"/><text class="m" x="1172" y="1880">PTK2B</text></g>
<g id="b-CCR2"><circle class="pk" cx="909" cy="1887" r="19"/><text class="m" x="909" y="1887">CCR2</text></g>
<g id="b-CXCL1"><circle class="pk" cx="973" cy="1887" r="19"/><text class="m" x="973" y="1887">CXCL1</text></g>
<g id="b-SELPLG"><circle class="pk" cx="1227" cy="1511" r="19"/><text class="m" x="1227" y="1511">SELPLG</text></g>
<g id="b-H2-DMB1"><circle class="pk" cx="1332" cy="1538" r="19"/><text class="m" x="1332" y="1538">H2-DMB1</text></g>
<g id="b-PTPRC"><circle class="pk" cx="1259" cy="1552" r="19"/><text class="m" x="1259" y="1552">PTPRC</text></g>
<g id="b-ICOS"><circle class="pk" cx="1309" cy="1586" r="19"/><text class="m" x="1309" y="1586">ICOS</text></g>
<g id="b-H2-AB1"><circle class="pk" cx="1380" cy="1604" r="19"/><text class="m" x="1380" y="1604">H2-AB1</text></g>
<g id="b-CD274"><circle class="pk" cx="1319" cy="1632" r="19"/><text class="m" x="1319" y="1632">CD274</text></g>
<g id="b-H2-M2"><circle class="pk" cx="1413" cy="1638" r="19"/><text class="m" x="1413" y="1638">H2-M2</text></g>
<g id="b-ITGB7"><circle class="pk" cx="1362" cy="1666" r="19"/><text class="m" x="1362" y="1666">ITGB7</text></g>
<g id="b-ICOSL"><circle class="pk" cx="1295" cy="1670" r="19"/><text class="m" x="1295" y="1670">ICOSL</text></g>
<g id="b-H2-OB"><circle class="pk" cx="1233" cy="1679" r="19"/><text class="m" x="1233" y="1679">H2-OB</text></g>
<g id="b-VCAM1"><circle class="pk" cx="1438" cy="1685" r="19"/><text class="m" x="1438" y="1685">VCAM1</text></g>
<g id="b-H2-M3"><circle class="pk" cx="1283" cy="1711" r="19"/><text class="m" x="1283" y="1711">H2-M3</text></g>
<g id="b-ITGB2"><circle class="pk" cx="1359" cy="1717" r="19"/><text class="m" x="1359" y="1717">ITGB2</text></g>
<g id="b-ITGA4"><circle class="pk" cx="1220" cy="1724" r="19"/><text class="m" x="1220" y="1724">ITGA4</text></g>
<g id="b-ICAM1"><circle class="pk" cx="1434" cy="1732" r="19"/><text class="m" x="1434" y="1732">ICAM1</text></g>
<g id="b-THY1"><circle class="pk" cx="1313" cy="1747" r="19"/><text class="m" x="1313" y="1747">THY1</text></g>
<g id="b-TXK"><circle class="pk" cx="1380" cy="1770" r="19"/><text class="m" x="1380" y="1770">TXK</text></g>
<g id="b-SH3BP2"><circle class="pk" cx="1485" cy="1784" r="19"/><text class="m" x="1485" y="1784">SH3BP2</text></g>
<g id="b-MMP2"><circle class="pk" cx="1343" cy="1805" r="19"/><text class="m" x="1343" y="1805">MMP2</text></g>
<g id="b-HCST"><circle class="pk" cx="1420" cy="1808" r="19"/><text class="m" x="1420" y="1808">HCST</text></g>
<g id="b-FCER1G"><circle class="pk" cx="1522" cy="1823" r="19"/><text class="m" x="1522" y="1823">FCER1G</text></g>
<g id="b-CD247"><circle class="pk" cx="1461" cy="1844" r="19"/><text class="m" x="1461" y="1844">CD247</text></g>
<g id="b-ACTN1"><circle class="pk" cx="1238" cy="1857" r="19"/><text class="m" x="1238" y="1857">ACTN1</text></g>
<g id="b-LCP2"><circle class="pk" cx="1498" cy="1877" r="19"/><text class="m" x="1498" y="1877">LCP2</text></g>
<g id="b-ACVRL1"><circle class="pk" cx="801" cy="1914" r="19"/><text class="m" x="801" y="1914">ACVRL1</text></g>
<g id="b-CX3CR1"><circle class="pk" cx="1018" cy="1917" r="19"/><text class="m" x="1018" y="1917">CX3CR1</text></g>
<g id="b-CCL4"><circle class="pk" cx="1089" cy="1908" r="19"/><text class="m" x="1089" y="1908">CCL4</text></g>
<g id="b-CXCL2"><circle class="pk" cx="869" cy="1928" r="19"/><text class="m" x="869" y="1928">CXCL2</text></g>
<g id="b-CCR1"><circle class="pk" cx="966" cy="1944" r="19"/><text class="m" x="966" y="1944">CCR1</text></g>
<g id="b-STAT1"><circle class="pk" cx="1168" cy="1933" r="19"/><text class="m" x="1168" y="1933">STAT1</text></g>
<g id="b-CCR7"><circle class="pk" cx="1069" cy="1964" r="19"/><text class="m" x="1069" y="1964">CCR7</text></g>
<g id="b-CCL9"><circle class="pk" cx="912" cy="1966" r="19"/><text class="m" x="912" y="1966">CCL9</text></g>
<g id="b-CCL2"><circle class="pk" cx="1004" cy="1983" r="19"/><text class="m" x="1004" y="1983">CCL2</text></g>
<g id="b-CXCR3"><circle class="pk" cx="861" cy="1990" r="19"/><text class="m" x="861" y="1990">CXCR3</text></g>
<g id="b-CCL22"><circle class="pk" cx="927" cy="2017" r="19"/><text class="m" x="927" y="2017">CCL22</text></g>
<g id="b-CXCR6"><circle class="pk" cx="1078" cy="2017" r="19"/><text class="m" x="1078" y="2017">CXCR6</text></g>
<g id="b-CXCL9"><circle class="pk" cx="1002" cy="2037" r="19"/><text class="m" x="1002" y="2037">CXCL9</text></g>
<g id="b-XCL1"><circle class="pk" cx="957" cy="2064" r="19"/><text class="m" x="957" y="2064">XCL1</text></g>
<g id="b-WAS"><circle class="pk" cx="1059" cy="2064" r="19"/><text class="m" x="1059" y="2064">WAS</text></g>
<g id="b-HCK"><circle class="pk" cx="1121" cy="2064" r="19"/><text class="m" x="1121" y="2064">HCK</text></g>
<g id="b-CCL3"><circle class="pk" cx="1008" cy="2093" r="19"/><text class="m" x="1008" y="2093">CCL3</text></g>
<g id="b-JAK3"><circle class="pk" cx="1082" cy="2100" r="19"/><text class="m" x="1082" y="2100">JAK3</text></g>
<g id="b-GNG10"><circle class="pk" cx="1183" cy="2085" r="19"/><text class="m" x="1183" y="2085">GNG10</text></g>
<g id="b-DOCK2"><circle class="pk" cx="1143" cy="2121" r="19"/><text class="m" x="1143" y="2121">DOCK2</text></g>
<g id="b-SPP1"><circle class="pk" cx="1186" cy="2151" r="19"/><text class="m" x="1186" y="2151">SPP1</text></g>
<g id="b-IKBKE"><circle class="pk" cx="1212" cy="2117" r="19"/><text class="m" x="1212" y="2117">IKBKE</text></g>
<g id="b-LCK"><circle class="pk" cx="1441" cy="1895" r="19"/><text class="m" x="1441" y="1895">LCK</text></g>
<g id="b-NCF1"><circle class="pk" cx="1236" cy="1904" r="19"/><text class="m" x="1236" y="1904">NCF1</text></g>
<g id="b-GZMB"><circle class="pk" cx="1503" cy="1923" r="19"/><text class="m" x="1503" y="1923">GZMB</text></g>
<g id="b-PIK3CD"><circle class="pk" cx="1285" cy="1940" r="19"/><text class="m" x="1285" y="1940">PIK3CD</text></g>
<g id="b-VAV1"><circle class="pk" cx="1412" cy="1941" r="19"/><text class="m" x="1412" y="1941">VAV1</text></g>
<g id="b-PRKCB"><circle class="pk" cx="1357" cy="1964" r="19"/><text class="m" x="1357" y="1964">PRKCB</text></g>
<g id="b-PLCG2"><circle class="pk" cx="1480" cy="1963" r="19"/><text class="m" x="1480" y="1963">PLCG2</text></g>
<g id="b-NFKBIE"><circle class="pk" cx="1518" cy="1998" r="19"/><text class="m" x="1518" y="1998">NFKBIE</text></g>
<g id="b-PIK3R5"><circle class="pk" cx="1431" cy="2008" r="19"/><text class="m" x="1431" y="2008">PIK3R5</text></g>
<g id="b-BLNK"><circle class="pk" cx="1577" cy="2013" r="19"/><text class="m" x="1577" y="2013">BLNK</text></g>
<g id="b-PIK3CG"><circle class="pk" cx="1355" cy="2033" r="19"/><text class="m" x="1355" y="2033">PIK3CG</text></g>
<g id="b-RASGRP3"><circle class="pk" cx="1600" cy="2052" r="19"/><text class="m" x="1600" y="2052">RASGRP3</text></g>
<g id="b-FOS"><circle class="pk" cx="1402" cy="2065" r="19"/><text class="m" x="1402" y="2065">FOS</text></g>
<g id="b-TLR2"><circle class="pk" cx="1323" cy="2083" r="19"/><text class="m" x="1323" y="2083">TLR2</text></g>
<g id="b-DAPP1"><circle class="pk" cx="1604" cy="2097" r="19"/><text class="m" x="1604" y="2097">DAPP1</text></g>
<g id="b-TLR3"><circle class="pk" cx="1374" cy="2101" r="19"/><text class="m" x="1374" y="2101">TLR3</text></g>
<g id="b-IRF5"><circle class="pk" cx="1280" cy="2115" r="19"/><text class="m" x="1280" y="2115">IRF5</text></g>
<g id="b-INPP5D"><circle class="pk" cx="1588" cy="2142" r="19"/><text class="m" x="1588" y="2142">INPP5D</text></g>
<g id="b-TLR6"><circle class="pk" cx="1354" cy="2140" r="19"/><text class="m" x="1354" y="2140">TLR6</text></g>
<g id="b-BTK"><circle class="pk" cx="1546" cy="2163" r="19"/><text class="m" x="1546" y="2163">BTK</text></g>
<g id="b-IRF7"><circle class="pk" cx="1305" cy="2166" r="19"/><text class="m" x="1305" y="2166">IRF7</text></g>
<g id="b-TLR4"><circle class="pk" cx="1244" cy="2172" r="19"/><text class="m" x="1244" y="2172">TLR4</text></g>
<g id="b-CARD11"><circle class="pk" cx="1489" cy="2169" r="19"/><text class="m" x="1489" y="2169">CARD11</text></g>
</g>

<g id="hubs-b">
<g id="b-P20"><rect class="hb" x="696.5" y="1529.5" width="43" height="43" rx="4"/><text class="hu" x="718" y="1551">P20</text></g>
<g id="b-P23"><rect class="hb" x="292.5" y="1602.5" width="43" height="43" rx="4"/><text class="hu" x="314" y="1624">P23</text></g>
<g id="b-P24"><rect class="hb" x="509.5" y="1668.5" width="43" height="43" rx="4"/><text class="hu" x="531" y="1690">P24</text></g>
<g id="b-P2"><rect class="hb" x="781.5" y="1783.5" width="43" height="43" rx="4"/><text class="hu" x="803" y="1805">P2</text></g>
<g id="b-P5"><rect class="hb" x="1047.5" y="1666.5" width="43" height="43" rx="4"/><text class="hu" x="1069" y="1688">P5</text></g>
<g id="b-P3"><rect class="hb" x="1202.5" y="1595.5" width="43" height="43" rx="4"/><text class="hu" x="1224" y="1617">P3</text></g>
<g id="b-P6"><rect class="hb" x="1248.5" y="1774.5" width="43" height="43" rx="4"/><text class="hu" x="1270" y="1796">P6</text></g>
<g id="b-P7"><rect class="hb" x="1319.5" y="1853.5" width="43" height="43" rx="4"/><text class="hu" x="1341" y="1875">P7</text></g>
<g id="b-P1"><rect class="hb" x="1139.5" y="1973.5" width="43" height="43" rx="4"/><text class="hu" x="1161" y="1995">P1</text></g>
<g id="b-P4"><rect class="hb" x="1226.5" y="2015.5" width="43" height="43" rx="4"/><text class="hu" x="1248" y="2037">P4</text></g>
<g id="b-P8"><rect class="hb" x="1468.5" y="2061.5" width="43" height="43" rx="4"/><text class="hu" x="1490" y="2083">P8</text></g>
<g id="b-P21"><rect class="hb" x="500.5" y="1906.5" width="43" height="43" rx="4"/><text class="hu" x="522" y="1928">P21</text></g>
<g id="b-P22"><rect class="hb" x="296.5" y="1926.5" width="43" height="43" rx="4"/><text class="hu" x="318" y="1948">P22</text></g>
<g id="b-P19"><rect class="hb" x="655.5" y="1955.5" width="43" height="43" rx="4"/><text class="hu" x="677" y="1977">P19</text></g>
<g id="b-P13"><rect class="hb" x="655.5" y="2020.5" width="43" height="43" rx="4"/><text class="hu" x="677" y="2042">P13</text></g>
<g id="b-P11"><rect class="hb" x="787.5" y="2016.5" width="43" height="43" rx="4"/><text class="hu" x="809" y="2038">P11</text></g>
<g id="b-P12"><rect class="hb" x="751.5" y="2144.5" width="43" height="43" rx="4"/><text class="hu" x="773" y="2166">P12</text></g>
<g id="b-P9"><rect class="hb" x="826.5" y="2175.5" width="43" height="43" rx="4"/><text class="hu" x="848" y="2197">P9</text></g>
<g id="b-P10"><rect class="hb" x="643.5" y="2208.5" width="43" height="43" rx="4"/><text class="hu" x="665" y="2230">P10</text></g>
<g id="b-P17"><rect class="hb" x="408.5" y="2065.5" width="43" height="43" rx="4"/><text class="hu" x="430" y="2087">P17</text></g>
<g id="b-P16"><rect class="hb" x="480.5" y="2086.5" width="43" height="43" rx="4"/><text class="hu" x="502" y="2108">P16</text></g>
<g id="b-P15"><rect class="hb" x="433.5" y="2147.5" width="43" height="43" rx="4"/><text class="hu" x="455" y="2169">P15</text></g>
<g id="b-P18"><rect class="hb" x="506.5" y="2157.5" width="43" height="43" rx="4"/><text class="hu" x="528" y="2179">P18</text></g>
<g id="b-P14"><rect class="hb" x="498.5" y="2241.5" width="43" height="43" rx="4"/><text class="hu" x="520" y="2263">P14</text></g>
</g>

<g id="legend-b">
<circle class="pk" cx="145" cy="2361" r="17"/><text class="lg" x="172" y="2374">DEGs of cluster 14</text>
<circle class="gr" cx="563" cy="2361" r="17"/><text class="lg" x="590" y="2374">DEGs of cluster 5</text>
<circle class="lv" cx="1002" cy="2361" r="17"/><text class="lg" x="1031" y="2374">DEGs of cluster 11</text>
<rect class="hb" x="1400" y="2345" width="32" height="32" rx="2"/><text class="lg" x="1449" y="2374">Pathway number</text>
</g>

<g id="table-b">
<line class="tk" x1="6" y1="2430" x2="1877" y2="2430"/>
<line class="tl" x1="6" y1="2474" x2="1877" y2="2474"/>
<line class="tk" x1="6" y1="2986" x2="1877" y2="2986"/>
<line class="tl" x1="218" y1="2430" x2="218" y2="2986"/>
<line class="tl" x1="951" y1="2430" x2="951" y2="2986"/>
<line class="tl" x1="1151" y1="2430" x2="1151" y2="2986"/>
<text class="th" x="112" y="2465">Number</text><text class="th" x="585" y="2465">Pathway</text>
<text class="th" x="1051" y="2465">Number</text><text class="th" x="1522" y="2465">Pathway</text>
<text class="tc" x="112" y="2508">P1</text><text class="tb" x="227" y="2508">Chemokine signaling pathw ay</text>
<text class="tc" x="112" y="2551">P2</text><text class="tb" x="227" y="2551">Cytokine-cytokine receptor interaction</text>
<text class="tc" x="112" y="2593">P3</text><text class="tb" x="227" y="2593">Cell adhesion molecules (CAMs)</text>
<text class="tc" x="112" y="2636">P4</text><text class="tb" x="227" y="2636">Toll-like receptor signaling pathw ay</text>
<text class="tc" x="112" y="2679">P5</text><text class="tb" x="227" y="2679">Hematopoietic cell lineage</text>
<text class="tc" x="112" y="2721">P6</text><text class="tb" x="227" y="2721">Leukocyte transendothelial migration</text>
<text class="tc" x="112" y="2764">P7</text><text class="tb" x="227" y="2764">Natural killer cell mediated cytotoxicity</text>
<text class="tc" x="112" y="2807">P8</text><text class="tb" x="227" y="2807">B cell receptor signaling pathw ay</text>
<text class="tc" x="112" y="2849">P9</text><text class="tb" x="227" y="2849">Biosynthesis of unsaturated fatty acids</text>
<text class="tc" x="112" y="2892">P10</text><text class="tb" x="227" y="2892">Neuroactive ligand-receptor interaction</text>
<text class="tc" x="112" y="2935">P11</text><text class="tb" x="227" y="2935">Cell cycle</text>
<text class="tc" x="112" y="2977">P12</text><text class="tb" x="227" y="2977">p53 signaling pathw ay</text>
<text class="tc" x="1051" y="2508">P13</text><text class="tb" x="1161" y="2508">MAPK signaling pathw ay</text>
<text class="tc" x="1051" y="2551">P14</text><text class="tb" x="1161" y="2551">Neurotrophin signaling pathw ay</text>
<text class="tc" x="1051" y="2593">P15</text><text class="tb" x="1161" y="2593">Aldosterone-regulated sodium reabsorption</text>
<text class="tc" x="1051" y="2636">P16</text><text class="tb" x="1161" y="2636">Insulin signaling pathw ay</text>
<text class="tc" x="1051" y="2679">P17</text><text class="tb" x="1161" y="2679">Type II diabetes mellitus</text>
<text class="tc" x="1051" y="2721">P18</text><text class="tb" x="1161" y="2721">Adipocytokine signaling pathw ay</text>
<text class="tc" x="1051" y="2764">P19</text><text class="tb" x="1161" y="2764">TGF-beta signaling pathw ay</text>
<text class="tc" x="1051" y="2807">P20</text><text class="tb" x="1161" y="2807">Sphingolipid metabolism</text>
<text class="tc" x="1051" y="2849">P21</text><text class="tb" x="1161" y="2849">Prion diseases</text>
<text class="tc" x="1051" y="2892">P22</text><text class="tb" x="1161" y="2892">Complement and coagulation cascades</text>
<text class="tc" x="1051" y="2935">P23</text><text class="tb" x="1161" y="2935">ECM-receptor interaction</text>
<text class="tc" x="1051" y="2977">P24</text><text class="tb" x="1161" y="2977">Focal adhesion</text>
</g>
</svg>
